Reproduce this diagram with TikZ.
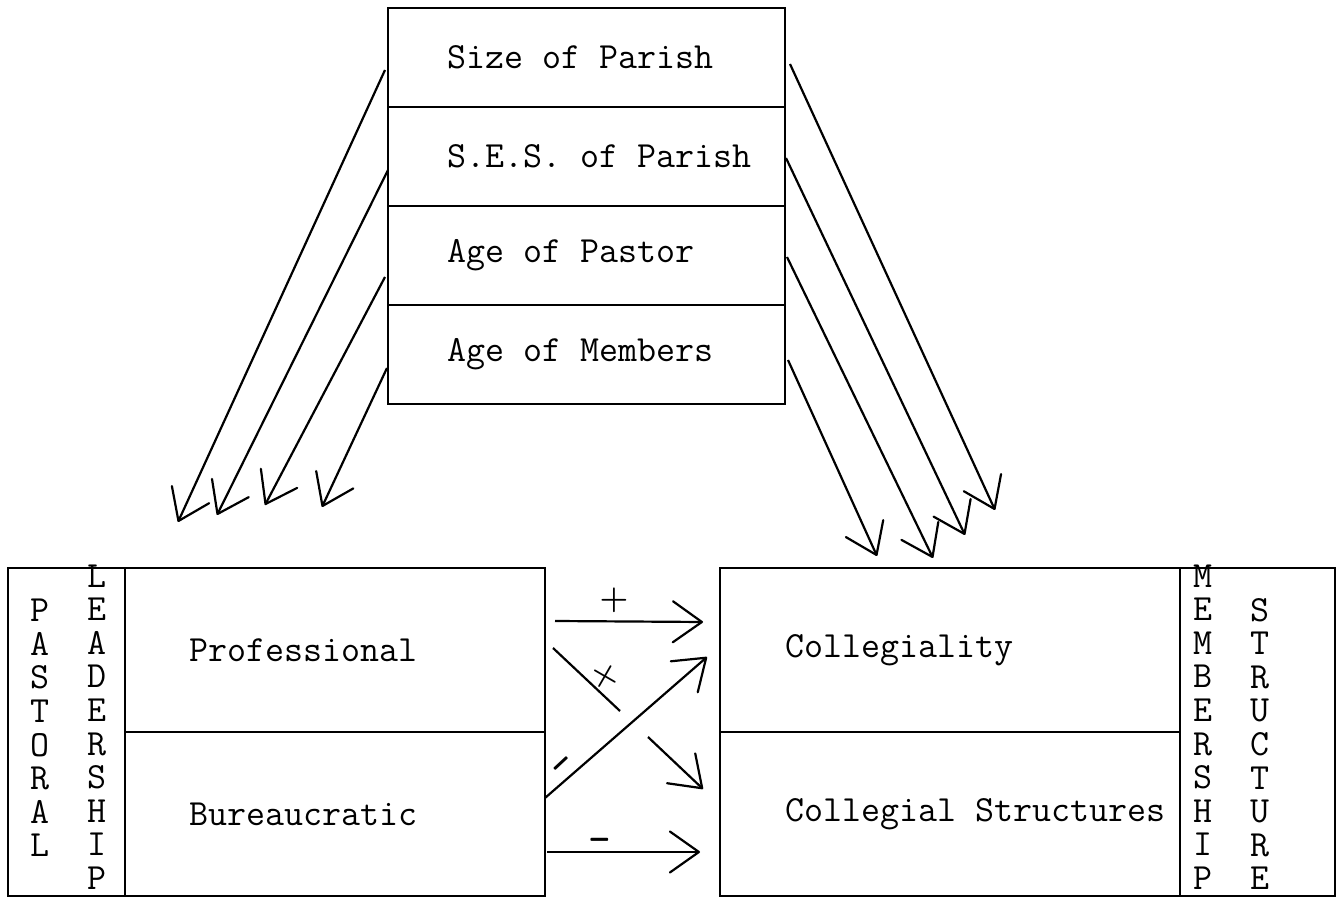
\documentclass[tikz,border=0pt]{standalone}
\usepackage{amsmath, amssymb}
\usepackage{xcolor}
\usepackage{tikz}
\usetikzlibrary{arrows.meta, positioning}

\begin{document}
\begin{tikzpicture}[x=0.02cm, y=-0.02cm, line width=1.3pt,
    >={Straight Barb[length=5.8mm, width=8.2mm, round]},
    every node/.style={font=\fontsize{21}{19.1}\selectfont\ttfamily, inner sep=0pt, outer sep=0pt},
    row/.style={draw, minimum width=7.94cm, minimum height=1.98cm},
    half/.style={draw, minimum height=3.28cm},
    column/.style={draw, minimum height=6.56cm},
    letters/.style={align=center},
    sign/.style={font=\fontsize{14}{14}\selectfont\boldmath},
    link/.style={line width=1.25pt}]
\useasboundingbox (0,0) rectangle (1340,898);

\node[row] (size) at (586.5,57.5) {};
\node[row, below=0pt of size] (ses) {};
\node[row, below=0pt of ses] (agep) {};
\node[row, below=0pt of agep] (agem) {};
\node[right=1.18cm of size.west] (tsize) {Size of Parish};
\node[right=1.18cm of ses.west] (tses) {S.E.S. of Parish};
\node[right=1.18cm of agep.west] (tagep) {Age of Pastor};
\node[right=1.18cm of agem.west] (tagem) {Age of Members};

\node[column, minimum width=2.34cm] (pastcol) at (66.5,732) {};
\node[half, minimum width=8.4cm, anchor=north west] (prof) at (pastcol.north east) {};
\node[half, minimum width=8.4cm, below=0pt of prof] (bur) {};
\node[letters] (pastoral) at (40,728) {P\\A\\S\\T\\O\\R\\A\\L};
\node[letters] (leadership) at (97,727) {L\\E\\A\\D\\E\\R\\S\\H\\I\\P};
\node[right=1.3cm of prof.west] (tprof) {Professional};
\node[right=1.3cm of bur.west] (tbur) {Bureaucratic};

\node[half, minimum width=9.2cm] (coll) at (950,650) {};
\node[half, minimum width=9.2cm, below=0pt of coll] (colls) {};
\node[column, minimum width=3.1cm, anchor=north west] (memcol) at (coll.north east) {};
\node[letters] (membership) at (1203,727) {M\\E\\M\\B\\E\\R\\S\\H\\I\\P};
\node[letters] (structure) at (1260,744) {S\\T\\R\\U\\C\\T\\U\\R\\E};
\node[right=1.3cm of coll.west] (tcoll) {Collegiality};
\node[right=1.3cm of colls.west] (tcolls) {Collegial Structures};

\coordinate (sl1) at (385,70);  \coordinate (el1) at (178,522);
\coordinate (sl2) at (388,170); \coordinate (el2) at (217,515);
\coordinate (sl3) at (385,277); \coordinate (el3) at (265,505);
\coordinate (sl4) at (387,368); \coordinate (el4) at (322,507);
\coordinate (sr1) at (790,64);  \coordinate (er1) at (995,510);
\coordinate (sr2) at (786,158); \coordinate (er2) at (965,535);
\coordinate (sr3) at (787,257); \coordinate (er3) at (933,558);
\coordinate (sr4) at (788,360); \coordinate (er4) at (877,556);
\foreach \i in {1,...,4}{
    \draw[->, link] (sl\i) -- (el\i);
    \draw[->, link] (sr\i) -- (er\i);
}

\coordinate (a1) at (555,621); \coordinate (b1) at (703,622);
\coordinate (a2) at (553,648); \coordinate (b2) at (703,789);
\coordinate (g1) at (620,711); \coordinate (g2) at (648,737);
\coordinate (a3) at (545,798); \coordinate (b3) at (707,657);
\coordinate (a4) at (547,852); \coordinate (b4) at (700,852);
\draw[->, link] (a1) -- (b1);
\draw[link] (a2) -- (g1);
\draw[->, link] (g2) -- (b2);
\draw[->, link] (a3) -- (b3);
\draw[->, link] (a4) -- (b4);
\node[sign, scale=1.3] (plus1) at (614,600) {$+$};
\node[sign, scale=1.3, rotate=-30] (plus2) at (605,677) {$+$};
\node[sign, rotate=43, yscale=2] (minus1) at (561,764) {$-$};
\node[sign, yscale=2] (minus2) at (600,840) {$-$};
\end{tikzpicture}
\end{document}
